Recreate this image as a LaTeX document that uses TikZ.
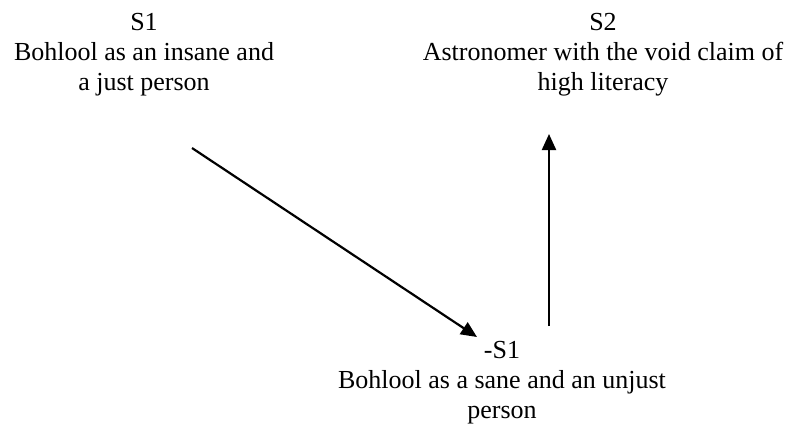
\documentclass[tikz,border=0pt]{standalone}
\usepackage{fontspec}
\setmainfont{Liberation Serif}
\usetikzlibrary{arrows.meta}

\begin{document}
\begin{tikzpicture}[x=1pt,y=-1pt,line width=2.2pt,>={Triangle[length=16pt,width=14pt]},
  state/.style={align=center,inner sep=0pt,anchor=base,font=\fontsize{26}{30}\selectfont}]
  \useasboundingbox (0,0) rectangle (792,426);
  % estados
  \node[state] (s1) at (144,90){S1\\Bohlool as an insane and\\a just person};
  \node[state] (s2) at (603,90){S2\\Astronomer with the void claim of\\high literacy};
  \node[state] (nots1) at (502,418){-S1\\Bohlool as a sane and an unjust\\person};
  % flechas
  \coordinate (d1) at (192,148); \coordinate (d2) at (477,337);
  \coordinate (u1) at (549,326); \coordinate (u2) at (549,134);
  \draw[->] (d1)--(d2);
  \draw[->] (u1)--(u2);
\end{tikzpicture}
\end{document}
